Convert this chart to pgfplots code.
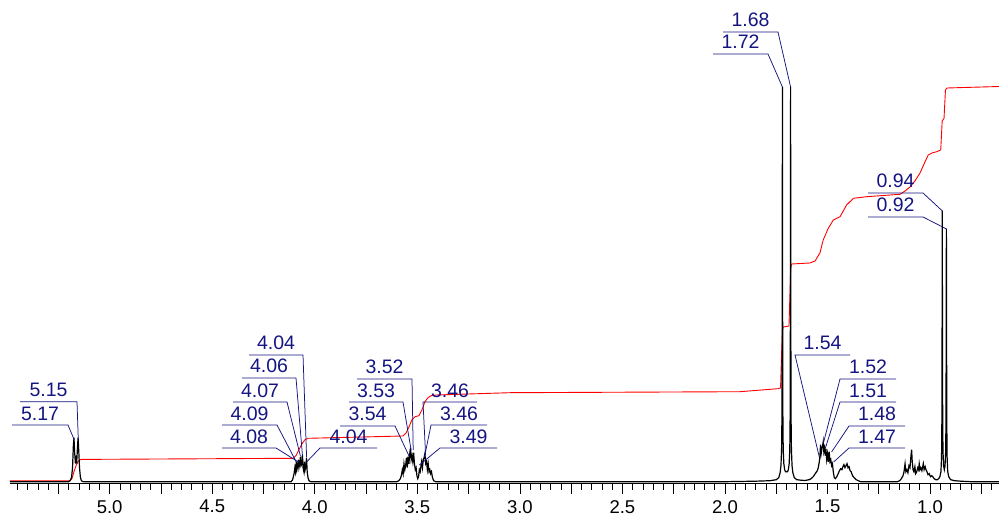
\documentclass[border=0pt]{standalone}
\usepackage{pgfplots}
\pgfplotsset{compat=1.18}
\usepackage{fontspec}
\setmainfont{Liberation Sans}
\definecolor{navy}{RGB}{20,20,130}
\newcommand\pkL[6]{%
  \draw[navy,line width=0.75pt] (#2,#4) -- (#3,#4) -- (#5,#6);
  \node[navy,anchor=base,inner sep=0pt,font=\fontsize{19.5}{20}\selectfont] at ({(#2+#3)/2},{#4-5}) {#1};}
\newcommand\pkR[6]{%
  \draw[navy,line width=0.75pt] (#3,#4) -- (#2,#4) -- (#5,#6);
  \node[navy,anchor=base,inner sep=0pt,font=\fontsize{19.5}{20}\selectfont] at ({(#2+#3)/2},{#4-5}) {#1};}
\begin{document}
\begin{tikzpicture}
\begin{axis}[
  at={(0,0)}, anchor=south west,
  scale only axis, width=989pt, height=483.7pt,
  xmin=0.664, xmax=5.486, ymin=-2, ymax=481.7,
  x dir=reverse,
  axis y line=none, axis x line=bottom,
  x axis line style={line width=0.8pt,-},
  ytick=\empty,
  xtick={1,1.5,...,5},
  minor xtick={0.7,0.75,...,5.46},
  extra x ticks={0.75,1.25,...,5.25},
  extra x tick labels={},
  tick align=outside,
  major tick length=10pt, minor tick length=6pt,
  every tick/.style={black, line width=0.7pt},
  xticklabel style={font=\fontsize{18.5}{20}\selectfont, yshift=-3pt},
  /pgf/number format/.cd, fixed, fixed zerofill, precision=1, assume math mode=true,
]
% integral curve
\addplot[red, line width=0.9pt] coordinates {
(5.486,1) (5.194,1) (5.184,3) (5.174,10) (5.164,16) (5.155,20) (5.145,22) (5.135,22.3)
(4.106,23.4) (4.092,26) (4.077,32) (4.062,38) (4.048,42) (4.033,43.4)
(3.570,45.7) (3.555,48.7) (3.541,54.7) (3.526,62) (3.511,65) (3.492,66) (3.477,72)
(3.463,80) (3.448,84) (3.433,86) (3.409,86.7) (3.048,89) (1.927,90) (1.742,93)
(1.729,93.7) (1.725,121.7) (1.720,151.7) (1.716,154.7) (1.688,155.7) (1.684,181.7)
(1.680,211.7) (1.676,217.7) (1.586,218.7) (1.561,220.7) (1.537,228.7) (1.521,241.7)
(1.498,252.7) (1.472,261.7) (1.439,265) (1.407,276.7) (1.374,283.4) (1.309,285)
(1.147,287.4) (1.122,290.7) (1.098,294.7) (1.074,300.7) (1.049,308.7) (1.025,319.7)
(1.009,326.7) (0.991,328.7) (0.968,330) (0.948,331.7) (0.941,360.7) (0.932,363.4)
(0.925,391.7) (0.918,393.7) (0.664,395.2)
};
% spectrum
\addplot[black, line width=1.2pt] coordinates {
(5.486,0) (5.200,0) (5.193,1) (5.186,4) (5.181,14) (5.177,36) (5.174,44) (5.171,30)
(5.167,18) (5.164,26) (5.161,18) (5.157,34) (5.154,44) (5.151,32) (5.147,14) (5.143,5)
(5.138,1) (5.130,0)
(4.115,0) (4.108,2) (4.101,8) (4.097,14) (4.094,10) (4.090,20) (4.087,12) (4.083,16)
(4.080,22) (4.077,14) (4.073,18) (4.070,25) (4.067,16) (4.063,18) (4.060,27) (4.057,14)
(4.053,10) (4.050,20) (4.047,12) (4.043,16) (4.040,24) (4.037,10) (4.033,4) (4.028,1)
(4.020,0)
(3.600,0) (3.590,1) (3.583,3) (3.578,6) (3.573,12) (3.569,8) (3.565,18) (3.561,12)
(3.557,16) (3.553,24) (3.549,14) (3.545,25) (3.541,18) (3.537,28) (3.533,34) (3.530,22)
(3.526,26) (3.522,20) (3.518,29) (3.514,18) (3.510,12) (3.506,14) (3.502,6) (3.498,3)
(3.494,5) (3.490,12) (3.486,10) (3.482,16) (3.479,20) (3.475,14) (3.471,22) (3.467,24)
(3.463,28) (3.459,18) (3.455,20) (3.451,12) (3.447,18) (3.443,10) (3.439,12) (3.435,8)
(3.431,10) (3.426,4) (3.420,1) (3.410,0)
(2.000,0) (1.850,0.5) (1.780,1) (1.750,2) (1.738,4) (1.731,9) (1.727,16) (1.724,32)
(1.7225,60) (1.7215,120) (1.7205,250) (1.7200,395) (1.7195,250) (1.7185,120) (1.7175,60)
(1.716,32) (1.713,18) (1.709,12) (1.705,10) (1.700,10) (1.695,10) (1.691,12) (1.687,18)
(1.684,32) (1.6825,60) (1.6815,120) (1.6805,250) (1.6800,395) (1.6795,250) (1.6785,120)
(1.6775,60) (1.676,32) (1.673,16) (1.669,9) (1.662,4) (1.650,2) (1.630,1.5) (1.610,1.2)
(1.590,2) (1.580,3) (1.570,5) (1.560,8) (1.550,11) (1.545,14) (1.540,20) (1.537,26)
(1.534,37) (1.531,28) (1.528,32) (1.524,36) (1.521,40) (1.518,30) (1.514,34) (1.511,26)
(1.508,33) (1.504,22) (1.500,28) (1.496,20) (1.492,30) (1.488,20) (1.484,22) (1.480,16)
(1.476,18) (1.472,10) (1.467,4) (1.462,3) (1.455,5) (1.448,8) (1.442,11) (1.436,13)
(1.430,12) (1.425,15) (1.420,17) (1.415,14) (1.410,16) (1.405,18) (1.400,14) (1.395,15)
(1.390,11) (1.385,10) (1.378,6) (1.370,4) (1.360,2) (1.350,1) (1.340,0)
(1.160,0) (1.148,1) (1.140,3) (1.132,6) (1.127,10) (1.122,18) (1.118,10) (1.113,12)
(1.108,9) (1.103,16) (1.098,14) (1.094,24) (1.090,32) (1.087,20) (1.083,12) (1.079,10)
(1.074,15) (1.070,8) (1.065,10) (1.060,14) (1.056,12) (1.053,18) (1.049,12) (1.045,14)
(1.040,11) (1.036,15) (1.033,18) (1.029,12) (1.024,15) (1.020,12) (1.015,10) (1.010,7)
(1.004,8) (0.998,5) (0.992,6) (0.987,5) (0.980,3) (0.972,2) (0.965,2)
(0.958,3) (0.952,5) (0.947,10) (0.944,25) (0.9425,60) (0.9415,140) (0.9405,271)
(0.9395,140) (0.9385,60) (0.937,30) (0.934,16) (0.9305,12) (0.927,16) (0.924,30)
(0.9225,60) (0.9215,140) (0.9205,253) (0.9195,140) (0.9185,60) (0.917,25) (0.914,10)
(0.909,5) (0.900,2) (0.880,1) (0.850,0.5) (0.800,0) (0.664,0)
};
\end{axis}
\begin{scope}[x=1pt,y=-1pt,shift={(-10pt,483.7pt)}]
\pkL{5.15}{20}{77}{401.7}{78.3}{440}
\pkL{5.17}{12}{68}{425}{74.3}{440}
\pkL{4.04}{249}{303}{355}{306.6}{457}
\pkL{4.06}{242}{296}{378}{302.5}{456}
\pkL{4.07}{233}{287}{402}{300.4}{456}
\pkL{4.09}{222}{277}{425}{296.3}{462}
\pkL{4.08}{222}{276}{448}{298.4}{462}
\pkR{4.04}{320}{377}{448}{306.6}{462}
\pkL{3.52}{357}{412}{379}{413.2}{450}
\pkL{3.53}{349}{403}{402}{411.1}{450}
\pkL{3.54}{340}{395}{426}{409}{456}
\pkR{3.46}{423}{477}{402}{425.6}{455}
\pkR{3.46}{431}{487}{425}{424.5}{457}
\pkR{3.49}{440}{497}{448}{419.4}{465}
\pkL{1.68}{723}{778}{32}{790.6}{87}
\pkL{1.72}{713}{768}{54}{782.4}{87}
\pkR{1.54}{795}{850}{355}{819.3}{457}
\pkR{1.52}{840}{896}{379}{823.4}{443}
\pkR{1.51}{840}{896}{402}{825.4}{448}
\pkR{1.48}{849}{905}{426}{831.6}{452}
\pkR{1.47}{849}{905}{448}{833.6}{462}
\pkL{0.94}{868}{923}{193}{942.4}{211}
\pkL{0.92}{868}{923}{217}{946.5}{229}
\end{scope}
\pgfresetboundingbox
\path (-10pt,-33.3pt) rectangle (989pt,483.7pt);
\end{tikzpicture}
\end{document}
